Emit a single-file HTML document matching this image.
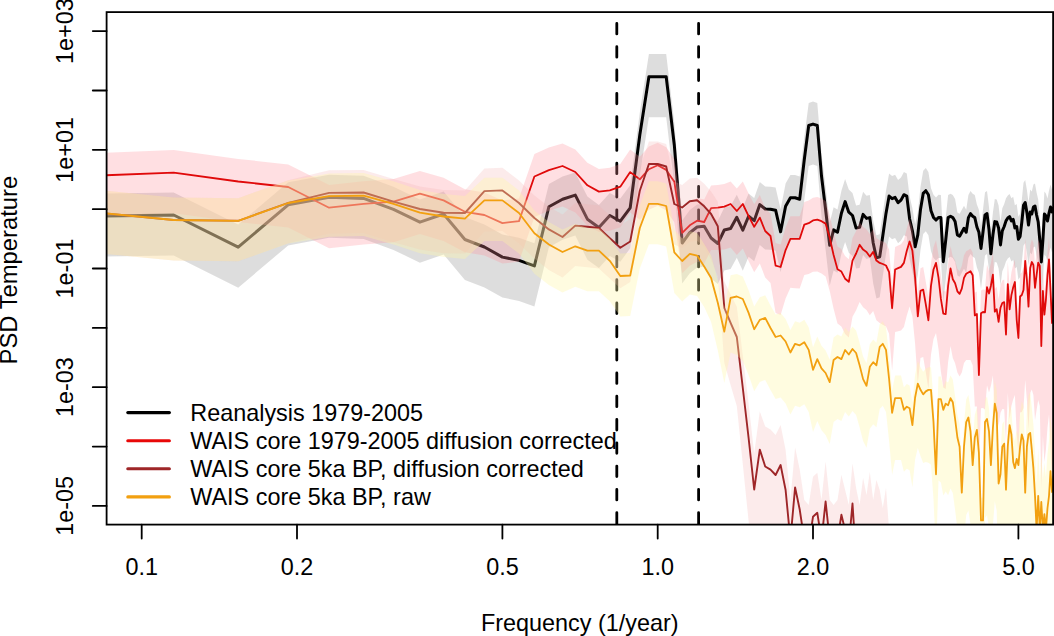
<!DOCTYPE html>
<html><head><meta charset="utf-8"><style>
html,body{margin:0;padding:0;background:#fff;}
svg{display:block;}
.t{font-family:"Liberation Sans",sans-serif;font-size:23.4px;fill:#000;}
</style></head><body>
<svg width="1054" height="636" viewBox="0 0 1054 636">
<rect width="1054" height="636" fill="#fff"/>
<defs><clipPath id="pc"><rect x="106.6" y="12.1" width="946.4999999999999" height="512.5"/></clipPath></defs>
<line x1="616.8" y1="523.2" x2="616.8" y2="12.1" stroke="#000" stroke-width="2.8" stroke-dasharray="10.5 12.8" stroke-linecap="round"/>
<line x1="698.6" y1="523.2" x2="698.6" y2="12.1" stroke="#000" stroke-width="2.8" stroke-dasharray="10.5 12.8" stroke-linecap="round"/>
<g clip-path="url(#pc)" stroke-linejoin="round" stroke-linecap="round">
<polygon points="82.8,193.8 173.7,192.4 238.2,224.6 288.2,182.3 329.1,174.7 363.6,175.8 393.5,186.8 419.9,199.6 443.6,191.4 464.9,216.9 484.4,224.4 502.4,234.5 519.0,237.8 534.4,243.3 548.9,184.1 562.5,176.6 575.3,172.5 587.4,196.6 598.9,204.9 609.8,192.9 620.3,198.6 630.2,185.2 639.8,112.4 648.9,54.1 657.7,54.1 666.2,54.1 674.3,122.4 682.2,220.4 689.8,210.1 697.1,204.4 704.2,203.7 711.1,215.4 717.8,220.9 724.3,207.4 730.6,205.9 736.8,194.7 742.8,207.6 748.6,193.6 754.2,198.1 759.8,182.0 765.2,186.4 770.5,186.7 775.6,187.6 780.6,209.2 785.6,183.6 790.4,175.1 795.1,175.1 799.7,176.6 804.3,136.9 808.7,102.9 813.0,101.5 817.3,102.9 821.5,153.4 825.6,186.9 829.7,222.7 833.6,207.3 837.5,209.6 841.4,190.7 845.1,179.0 848.8,189.6 852.5,192.9 856.1,205.5 859.6,204.8 863.1,191.8 866.5,195.8 869.8,195.0 873.2,220.4 876.4,235.3 879.7,234.2 882.8,213.1 886.0,190.8 889.1,173.5 892.1,176.1 895.1,174.8 898.1,180.1 901.0,177.5 903.9,172.1 906.8,173.5 909.6,196.2 912.4,208.2 915.1,224.2 917.8,212.2 920.5,186.8 923.2,170.8 925.8,168.1 928.4,172.1 931.0,188.2 933.5,194.8 936.0,197.5 938.5,194.8 940.9,195.0 943.3,239.1 945.7,217.8 948.1,195.0 950.5,193.7 952.8,195.0 955.1,199.0 957.4,212.4 959.6,213.7 961.8,209.7 964.0,205.7 966.2,209.7 968.4,195.0 970.5,191.0 972.7,193.7 974.8,195.0 976.9,204.4 978.9,209.7 981.0,225.8 983.0,209.4 985.0,192.3 987.0,191.0 989.0,207.0 990.9,231.2 992.9,212.4 994.8,199.0 996.7,199.4 998.6,205.4 1000.5,222.3 1002.3,208.2 1004.2,203.9 1006.0,198.3 1007.8,195.4 1009.6,194.0 1011.4,198.3 1013.2,196.8 1014.9,205.3 1016.7,203.9 1018.4,216.7 1020.1,213.8 1021.8,199.7 1023.5,182.7 1025.2,179.9 1026.9,189.8 1028.5,202.5 1030.2,189.4 1031.8,191.4 1033.4,184.4 1035.0,183.4 1036.6,192.4 1038.2,199.4 1039.8,217.4 1041.3,239.4 1042.9,217.4 1044.4,191.4 1045.9,193.4 1047.5,198.4 1049.0,190.4 1050.5,184.4 1052.0,189.4 1053.4,185.4 1054.9,185.4 1054.9,248.5 1053.4,248.5 1052.0,252.5 1050.5,247.5 1049.0,253.5 1047.5,261.5 1045.9,256.5 1044.4,254.5 1042.9,280.5 1041.3,302.5 1039.8,280.5 1038.2,262.5 1036.6,255.5 1035.0,246.5 1033.4,247.5 1031.8,254.5 1030.2,252.5 1028.5,265.6 1026.9,252.9 1025.2,243.0 1023.5,245.8 1021.8,262.8 1020.1,276.9 1018.4,279.8 1016.7,267.0 1014.9,268.4 1013.2,259.9 1011.4,261.4 1009.6,257.1 1007.8,258.5 1006.0,261.4 1004.2,267.0 1002.3,271.3 1000.5,285.4 998.6,268.5 996.7,262.5 994.8,262.1 992.9,275.5 990.9,294.3 989.0,270.1 987.0,254.1 985.0,255.4 983.0,272.5 981.0,288.9 978.9,272.8 976.9,267.5 974.8,258.1 972.7,256.8 970.5,254.1 968.4,258.1 966.2,272.8 964.0,268.8 961.8,272.8 959.6,276.8 957.4,275.5 955.1,262.1 952.8,258.1 950.5,256.8 948.1,258.1 945.7,280.9 943.3,302.2 940.9,258.1 938.5,257.9 936.0,260.6 933.5,257.9 931.0,251.3 928.4,235.2 925.8,231.2 923.2,233.9 920.5,249.9 917.8,275.3 915.1,287.3 912.4,271.3 909.6,259.3 906.8,236.6 903.9,235.2 901.0,240.6 898.1,243.2 895.1,237.9 892.1,239.2 889.1,236.6 886.0,253.9 882.8,276.2 879.7,297.3 876.4,298.4 873.2,283.5 869.8,258.1 866.5,258.9 863.1,254.9 859.6,267.9 856.1,268.6 852.5,256.0 848.8,252.7 845.1,242.1 841.4,253.8 837.5,272.7 833.6,270.4 829.7,285.8 825.6,250.0 821.5,216.5 817.3,166.0 813.0,164.6 808.7,166.0 804.3,200.0 799.7,239.7 795.1,238.2 790.4,238.2 785.6,246.7 780.6,272.3 775.6,250.7 770.5,249.8 765.2,249.5 759.8,245.1 754.2,261.2 748.6,256.7 742.8,270.7 736.8,257.8 730.6,269.0 724.3,270.5 717.8,284.0 711.1,278.5 704.2,266.8 697.1,267.5 689.8,273.2 682.2,283.5 674.3,185.5 666.2,117.2 657.7,117.2 648.9,117.2 639.8,175.5 630.2,248.3 620.3,261.7 609.8,256.0 598.9,268.0 587.4,259.7 575.3,235.6 562.5,239.7 548.9,247.2 534.4,306.4 519.0,300.9 502.4,297.6 484.4,287.5 464.9,280.0 443.6,254.5 419.9,262.7 393.5,249.9 363.6,238.9 329.1,237.8 288.2,245.4 238.2,287.7 173.7,255.5 82.8,256.9" fill="#000" fill-opacity="0.135" stroke="none"/>
<polyline points="82.8,216.4 173.7,215.0 238.2,247.2 288.2,204.9 329.1,197.3 363.6,198.4 393.5,209.4 419.9,222.2 443.6,214.0 464.9,239.5 484.4,247.0 502.4,257.1 519.0,260.4 534.4,265.9 548.9,206.7 562.5,199.2 575.3,195.1 587.4,219.2 598.9,227.5 609.8,215.5 620.3,221.2 630.2,207.8 639.8,135.0 648.9,76.7 657.7,76.7 666.2,76.7 674.3,145.0 682.2,243.0 689.8,232.7 697.1,227.0 704.2,226.3 711.1,238.0 717.8,243.5 724.3,230.0 730.6,228.5 736.8,217.3 742.8,230.2 748.6,216.2 754.2,220.7 759.8,204.6 765.2,209.0 770.5,209.3 775.6,210.2 780.6,231.8 785.6,206.2 790.4,197.7 795.1,197.7 799.7,199.2 804.3,159.5 808.7,125.5 813.0,124.1 817.3,125.5 821.5,176.0 825.6,209.5 829.7,245.3 833.6,229.9 837.5,232.2 841.4,213.3 845.1,201.6 848.8,212.2 852.5,215.5 856.1,228.1 859.6,227.4 863.1,214.4 866.5,218.4 869.8,217.6 873.2,243.0 876.4,257.9 879.7,256.8 882.8,235.7 886.0,213.4 889.1,196.1 892.1,198.7 895.1,197.4 898.1,202.7 901.0,200.1 903.9,194.7 906.8,196.1 909.6,218.8 912.4,230.8 915.1,246.8 917.8,234.8 920.5,209.4 923.2,193.4 925.8,190.7 928.4,194.7 931.0,210.8 933.5,217.4 936.0,220.1 938.5,217.4 940.9,217.6 943.3,261.7 945.7,240.4 948.1,217.6 950.5,216.3 952.8,217.6 955.1,221.6 957.4,235.0 959.6,236.3 961.8,232.3 964.0,228.3 966.2,232.3 968.4,217.6 970.5,213.6 972.7,216.3 974.8,217.6 976.9,227.0 978.9,232.3 981.0,248.4 983.0,232.0 985.0,214.9 987.0,213.6 989.0,229.6 990.9,253.8 992.9,235.0 994.8,221.6 996.7,222.0 998.6,228.0 1000.5,244.9 1002.3,230.8 1004.2,226.5 1006.0,220.9 1007.8,218.0 1009.6,216.6 1011.4,220.9 1013.2,219.4 1014.9,227.9 1016.7,226.5 1018.4,239.3 1020.1,236.4 1021.8,222.3 1023.5,205.3 1025.2,202.5 1026.9,212.4 1028.5,225.1 1030.2,212.0 1031.8,214.0 1033.4,207.0 1035.0,206.0 1036.6,215.0 1038.2,222.0 1039.8,240.0 1041.3,262.0 1042.9,240.0 1044.4,214.0 1045.9,216.0 1047.5,221.0 1049.0,213.0 1050.5,207.0 1052.0,212.0 1053.4,208.0 1054.9,208.0" fill="none" stroke="#000" stroke-width="3"/>
<polygon points="82.8,153.5 173.7,150.1 238.2,158.9 288.2,164.4 329.1,185.1 363.6,181.3 393.5,179.1 419.9,171.0 443.6,177.8 464.9,189.2 484.4,192.4 502.4,200.5 519.0,198.5 534.4,153.9 548.9,147.6 562.5,143.4 575.3,149.4 587.4,162.7 598.9,169.0 609.8,167.7 620.3,164.1 630.2,149.5 639.8,156.7 648.9,146.6 657.7,142.7 666.2,147.3 674.3,159.1 682.2,210.2 689.8,202.7 697.1,198.1 704.2,199.4 711.1,185.5 717.8,185.0 724.3,184.0 730.6,181.4 736.8,188.4 742.8,181.4 748.6,193.6 754.2,204.2 759.8,195.0 765.2,208.4 770.5,213.4 775.6,243.1 780.6,244.4 785.6,227.5 790.4,216.2 795.1,216.2 799.7,216.2 804.3,202.0 808.7,200.6 813.0,197.8 817.3,197.1 821.5,198.6 825.6,201.0 829.7,215.2 833.6,232.4 837.5,246.6 841.4,249.0 845.1,256.1 848.8,259.2 852.5,238.0 856.1,230.9 859.6,222.2 863.1,227.0 866.5,229.3 869.8,234.0 873.2,229.3 876.4,238.0 879.7,240.3 882.8,241.4 886.0,242.9 889.1,249.6 892.1,285.7 895.1,246.9 898.1,245.6 901.0,244.3 903.9,240.3 906.8,228.2 909.6,218.9 912.4,228.2 915.1,255.0 917.8,293.7 920.5,268.3 923.2,267.0 925.8,281.7 928.4,297.7 931.0,263.0 933.5,246.9 936.0,240.3 938.5,255.0 940.9,276.3 943.3,291.0 945.7,291.4 948.1,263.3 950.5,245.9 952.8,256.6 955.1,260.6 957.4,268.7 959.6,271.3 961.8,266.0 964.0,255.3 966.2,251.2 968.4,249.9 970.5,248.6 972.7,252.6 974.8,292.8 976.9,291.4 978.9,352.4 981.0,290.6 983.0,289.4 985.0,289.8 987.0,264.6 989.0,270.9 990.9,263.1 992.9,252.0 994.8,289.1 996.7,286.7 998.6,299.3 1000.5,285.1 1002.3,280.4 1004.2,279.6 1006.0,311.9 1007.8,261.5 1009.6,286.7 1011.4,272.5 1013.2,264.6 1014.9,259.4 1016.7,297.4 1018.4,315.4 1020.1,273.9 1021.8,272.4 1023.5,267.4 1025.2,238.4 1026.9,257.4 1028.5,284.1 1030.2,245.4 1031.8,239.4 1033.4,242.4 1035.0,265.2 1036.6,252.4 1038.2,240.0 1039.8,243.4 1041.3,323.4 1042.9,268.4 1044.4,292.0 1045.9,277.4 1047.5,252.4 1049.0,236.8 1050.5,267.4 1052.0,300.4 1053.4,277.4 1054.9,267.4 1054.9,455.0 1053.4,462.5 1052.0,483.0 1050.5,447.5 1049.0,414.4 1047.5,427.5 1045.9,450.0 1044.4,462.1 1042.9,436.0 1041.3,488.5 1039.8,406.0 1038.2,400.1 1036.6,410.0 1035.0,420.3 1033.4,395.0 1031.8,389.5 1030.2,393.0 1028.5,429.2 1026.9,400.0 1025.2,380.0 1023.5,408.0 1021.8,412.0 1020.1,412.5 1018.4,453.0 1016.7,434.0 1014.9,395.0 1013.2,399.2 1011.4,406.1 1009.6,419.3 1007.8,393.1 1006.0,442.5 1004.2,409.2 1002.3,409.0 1000.5,412.7 998.6,425.9 996.7,412.3 994.8,413.7 992.9,375.6 990.9,385.7 989.0,392.5 987.0,385.2 985.0,409.4 983.0,408.0 981.0,408.2 978.9,468.8 976.9,406.5 974.8,406.6 972.7,365.2 970.5,359.9 968.4,360.0 966.2,360.1 964.0,362.9 961.8,372.4 959.6,376.4 957.4,372.6 955.1,363.2 952.8,357.9 950.5,346.0 948.1,362.1 945.7,389.0 943.3,387.4 940.9,371.4 938.5,348.9 936.0,332.9 933.5,339.0 931.0,354.6 928.4,388.8 925.8,372.3 923.2,357.1 920.5,357.9 917.8,382.9 915.1,343.7 912.4,316.4 909.6,306.6 906.8,315.4 903.9,327.0 901.0,330.5 898.1,331.3 895.1,332.1 892.1,370.4 889.1,333.8 886.0,326.6 882.8,324.7 879.7,323.1 876.4,320.3 873.2,311.1 869.8,315.3 866.5,310.1 863.1,307.3 859.6,302.0 856.1,310.2 852.5,316.8 848.8,337.5 845.1,333.9 841.4,326.4 837.5,323.5 833.6,308.8 829.7,291.1 825.6,276.4 821.5,273.5 817.3,271.5 813.0,271.7 808.7,274.0 804.3,274.9 799.7,288.6 795.1,288.2 790.4,287.7 785.6,298.5 780.6,314.9 775.6,313.1 770.5,282.9 765.2,277.4 759.8,263.5 754.2,272.2 748.6,261.1 742.8,248.4 736.8,254.9 730.6,247.4 724.3,249.6 717.8,250.1 711.1,250.1 704.2,263.5 697.1,261.7 689.8,265.8 682.2,273.3 674.3,222.2 666.2,210.4 657.7,205.8 648.9,209.7 639.8,219.8 630.2,212.6 620.3,227.2 609.8,230.8 598.9,232.1 587.4,225.8 575.3,212.5 562.5,206.5 548.9,210.7 534.4,217.0 519.0,261.6 502.4,263.6 484.4,255.5 464.9,252.3 443.6,240.9 419.9,234.1 393.5,242.2 363.6,244.4 329.1,248.2 288.2,227.5 238.2,222.0 173.7,213.2 82.8,216.6" fill="rgb(255,140,150)" fill-opacity="0.28" stroke="none"/>
<polyline points="82.8,176.1 173.7,172.7 238.2,181.5 288.2,187.0 329.1,207.7 363.6,203.9 393.5,201.7 419.9,193.6 443.6,200.4 464.9,211.8 484.4,215.0 502.4,223.1 519.0,221.1 534.4,176.5 548.9,170.2 562.5,166.0 575.3,172.0 587.4,185.3 598.9,191.6 609.8,190.3 620.3,186.7 630.2,172.1 639.8,179.3 648.9,169.2 657.7,165.3 666.2,169.9 674.3,181.7 682.2,232.8 689.8,225.3 697.1,220.7 704.2,222.0 711.1,208.1 717.8,207.6 724.3,206.6 730.6,204.0 736.8,211.0 742.8,204.0 748.6,216.2 754.2,226.8 759.8,217.6 765.2,231.0 770.5,236.0 775.6,265.7 780.6,267.0 785.6,250.1 790.4,238.8 795.1,238.8 799.7,238.8 804.3,224.6 808.7,223.2 813.0,220.4 817.3,219.7 821.5,221.2 825.6,223.6 829.7,237.8 833.6,255.0 837.5,269.2 841.4,271.6 845.1,278.7 848.8,281.8 852.5,260.6 856.1,253.5 859.6,244.8 863.1,249.6 866.5,251.9 869.8,256.6 873.2,251.9 876.4,260.6 879.7,262.9 882.8,264.0 886.0,265.5 889.1,272.2 892.1,308.3 895.1,269.5 898.1,268.2 901.0,266.9 903.9,262.9 906.8,250.8 909.6,241.5 912.4,250.8 915.1,277.6 917.8,316.3 920.5,290.9 923.2,289.6 925.8,304.3 928.4,320.3 931.0,285.6 933.5,269.5 936.0,262.9 938.5,277.6 940.9,298.9 943.3,313.6 945.7,314.0 948.1,285.9 950.5,268.5 952.8,279.2 955.1,283.2 957.4,291.3 959.6,293.9 961.8,288.6 964.0,277.9 966.2,273.8 968.4,272.5 970.5,271.2 972.7,275.2 974.8,315.4 976.9,314.0 978.9,375.0 981.0,313.2 983.0,312.0 985.0,312.4 987.0,287.2 989.0,293.5 990.9,285.7 992.9,274.6 994.8,311.7 996.7,309.3 998.6,321.9 1000.5,307.7 1002.3,303.0 1004.2,302.2 1006.0,334.5 1007.8,284.1 1009.6,309.3 1011.4,295.1 1013.2,287.2 1014.9,282.0 1016.7,320.0 1018.4,338.0 1020.1,296.5 1021.8,295.0 1023.5,290.0 1025.2,261.0 1026.9,280.0 1028.5,306.7 1030.2,268.0 1031.8,262.0 1033.4,265.0 1035.0,287.8 1036.6,275.0 1038.2,262.6 1039.8,266.0 1041.3,346.0 1042.9,291.0 1044.4,314.6 1045.9,300.0 1047.5,275.0 1049.0,259.4 1050.5,290.0 1052.0,323.0 1053.4,300.0 1054.9,290.0" fill="none" stroke="#e00a0a" stroke-width="1.8"/>
<polygon points="82.8,188.6 173.7,197.4 238.2,198.2 288.2,180.2 329.1,170.3 363.6,169.9 393.5,179.1 419.9,186.4 443.6,190.1 464.9,190.4 484.4,168.5 502.4,167.8 519.0,180.4 534.4,195.4 548.9,206.8 562.5,214.4 575.3,203.0 587.4,204.2 598.9,205.4 609.8,215.5 620.3,225.2 630.2,218.9 639.8,168.1 648.9,141.4 657.7,141.4 666.2,143.9 674.3,181.4 682.2,184.9 689.8,178.6 697.1,177.7 704.2,183.7 711.1,191.4 717.8,201.8 724.3,281.3 730.6,294.5 736.8,306.7 742.8,355.7 748.6,403.8 754.2,453.4 759.8,411.5 765.2,426.5 770.5,429.6 775.6,435.0 780.6,425.0 785.6,450.0 790.4,500.0 795.1,447.4 799.7,469.5 804.3,500.0 808.7,505.0 813.0,476.8 817.3,472.8 821.5,500.0 825.6,461.5 829.7,500.0 833.6,505.0 837.5,500.0 841.4,474.8 845.1,490.0 848.8,505.0 852.5,463.5 856.1,488.0 859.6,505.0 863.1,478.0 866.5,495.0 869.8,472.0 873.2,500.0 876.4,480.0 879.7,490.0 882.8,508.0 886.0,488.0 889.1,530.0 892.1,580.0 895.1,580.0 898.1,580.0 901.0,580.0 903.9,580.0 906.8,580.0 909.6,580.0 912.4,580.0 915.1,580.0 917.8,580.0 920.5,580.0 923.2,580.0 925.8,580.0 928.4,580.0 931.0,580.0 933.5,580.0 936.0,580.0 938.5,580.0 940.9,580.0 943.3,580.0 945.7,580.0 948.1,580.0 950.5,580.0 952.8,580.0 955.1,580.0 957.4,580.0 959.6,580.0 961.8,580.0 964.0,580.0 966.2,580.0 968.4,580.0 970.5,580.0 972.7,580.0 974.8,580.0 976.9,580.0 978.9,580.0 981.0,580.0 983.0,580.0 985.0,580.0 987.0,580.0 989.0,580.0 990.9,580.0 992.9,580.0 994.8,580.0 996.7,580.0 998.6,580.0 1000.5,580.0 1002.3,580.0 1004.2,580.0 1006.0,580.0 1007.8,580.0 1009.6,580.0 1011.4,580.0 1013.2,580.0 1014.9,580.0 1016.7,580.0 1018.4,580.0 1020.1,580.0 1021.8,580.0 1023.5,580.0 1025.2,580.0 1026.9,580.0 1028.5,580.0 1030.2,580.0 1031.8,580.0 1033.4,580.0 1035.0,580.0 1036.6,580.0 1038.2,580.0 1039.8,580.0 1041.3,580.0 1042.9,580.0 1044.4,580.0 1045.9,580.0 1047.5,580.0 1049.0,580.0 1050.5,580.0 1052.0,580.0 1053.4,580.0 1054.9,580.0 1054.9,710.0 1053.4,710.0 1052.0,710.0 1050.5,710.0 1049.0,710.0 1047.5,710.0 1045.9,710.0 1044.4,710.0 1042.9,710.0 1041.3,710.0 1039.8,710.0 1038.2,710.0 1036.6,710.0 1035.0,710.0 1033.4,710.0 1031.8,710.0 1030.2,710.0 1028.5,710.0 1026.9,710.0 1025.2,710.0 1023.5,710.0 1021.8,710.0 1020.1,710.0 1018.4,710.0 1016.7,710.0 1014.9,710.0 1013.2,710.0 1011.4,710.0 1009.6,710.0 1007.8,710.0 1006.0,710.0 1004.2,710.0 1002.3,710.0 1000.5,710.0 998.6,710.0 996.7,710.0 994.8,710.0 992.9,710.0 990.9,710.0 989.0,710.0 987.0,710.0 985.0,710.0 983.0,710.0 981.0,710.0 978.9,710.0 976.9,710.0 974.8,710.0 972.7,710.0 970.5,710.0 968.4,710.0 966.2,710.0 964.0,710.0 961.8,710.0 959.6,710.0 957.4,710.0 955.1,710.0 952.8,710.0 950.5,710.0 948.1,710.0 945.7,710.0 943.3,710.0 940.9,710.0 938.5,710.0 936.0,710.0 933.5,710.0 931.0,710.0 928.4,710.0 925.8,710.0 923.2,710.0 920.5,710.0 917.8,710.0 915.1,710.0 912.4,710.0 909.6,710.0 906.8,710.0 903.9,710.0 901.0,710.0 898.1,710.0 895.1,710.0 892.1,710.0 889.1,660.0 886.0,618.0 882.8,638.0 879.7,620.0 876.4,610.0 873.2,630.0 869.8,602.0 866.5,625.0 863.1,608.0 859.6,635.0 856.1,618.0 852.5,593.5 848.8,635.0 845.1,620.0 841.4,604.8 837.5,630.0 833.6,635.0 829.7,630.0 825.6,591.5 821.5,630.0 817.3,602.8 813.0,606.8 808.7,635.0 804.3,630.0 799.7,599.5 795.1,577.4 790.4,630.0 785.6,580.0 780.6,555.0 775.6,565.0 770.5,559.6 765.2,556.5 759.8,539.6 754.2,579.5 748.6,521.0 742.8,464.0 736.8,406.0 730.6,384.9 724.3,362.8 717.8,276.5 711.1,259.3 704.2,246.8 697.1,240.8 689.8,241.7 682.2,248.0 674.3,244.5 666.2,207.0 657.7,204.5 648.9,204.5 639.8,231.2 630.2,282.0 620.3,288.3 609.8,278.6 598.9,268.5 587.4,267.3 575.3,266.1 562.5,277.5 548.9,269.9 534.4,258.5 519.0,243.5 502.4,230.9 484.4,231.6 464.9,253.5 443.6,253.2 419.9,249.5 393.5,242.2 363.6,233.0 329.1,233.4 288.2,243.3 238.2,261.3 173.7,260.5 82.8,251.7" fill="rgb(243,175,175)" fill-opacity="0.25" stroke="none"/>
<polyline points="82.8,211.2 173.7,220.0 238.2,220.8 288.2,202.8 329.1,192.9 363.6,192.5 393.5,201.7 419.9,209.0 443.6,212.7 464.9,213.0 484.4,191.1 502.4,190.4 519.0,203.0 534.4,218.0 548.9,229.4 562.5,237.0 575.3,225.6 587.4,226.8 598.9,228.0 609.8,238.1 620.3,247.8 630.2,241.5 639.8,190.7 648.9,164.0 657.7,164.0 666.2,166.5 674.3,204.0 682.2,207.5 689.8,201.2 697.1,200.3 704.2,206.3 711.1,214.0 717.8,226.3 724.3,307.8 730.6,322.9 736.8,337.0 742.8,388.0 748.6,438.0 754.2,489.5 759.8,449.6 765.2,466.5 770.5,469.6 775.6,475.0 780.6,465.0 785.6,490.0 790.4,540.0 795.1,487.4 799.7,509.5 804.3,540.0 808.7,545.0 813.0,516.8 817.3,512.8 821.5,540.0 825.6,501.5 829.7,540.0 833.6,545.0 837.5,540.0 841.4,514.8 845.1,530.0 848.8,545.0 852.5,503.5 856.1,560.0" fill="none" stroke="#9e2628" stroke-width="1.9"/>
<polygon points="82.8,188.6 173.7,197.4 238.2,198.2 288.2,180.4 329.1,173.6 363.6,173.0 393.5,181.3 419.9,190.1 443.6,193.9 464.9,196.0 484.4,177.8 502.4,177.8 519.0,190.4 534.4,210.6 548.9,221.9 562.5,229.4 575.3,223.7 587.4,228.1 598.9,228.1 609.8,238.2 620.3,253.4 630.2,252.9 639.8,205.4 648.9,181.2 657.7,181.2 666.2,183.4 674.3,229.8 682.2,238.4 689.8,231.3 697.1,233.0 704.2,243.9 711.1,255.4 717.8,280.2 724.3,309.1 730.6,275.2 736.8,273.9 742.8,276.4 748.6,290.3 754.2,306.6 759.8,297.3 765.2,295.3 770.5,305.4 775.6,314.4 780.6,312.9 785.6,318.9 790.4,329.9 795.1,321.2 799.7,322.7 804.3,319.7 808.7,327.3 813.0,347.3 817.3,336.5 821.5,345.7 825.6,350.4 829.7,359.5 833.6,337.4 837.5,334.4 841.4,336.5 845.1,327.4 848.8,331.9 852.5,326.4 856.1,330.4 859.6,342.7 863.1,356.5 866.5,363.2 869.8,344.2 873.2,339.6 876.4,342.7 879.7,324.3 882.8,321.2 886.0,327.3 889.1,356.4 892.1,390.2 895.1,375.5 898.1,375.5 901.0,375.5 903.9,387.2 906.8,384.1 909.6,385.6 912.4,402.5 915.1,374.9 917.8,361.1 920.5,367.2 923.2,371.8 925.8,368.8 928.4,367.3 931.0,367.3 933.5,399.5 936.0,451.7 938.5,376.5 940.9,376.5 943.3,387.2 945.7,381.1 948.1,382.6 950.5,375.6 952.8,379.6 955.1,396.4 957.4,414.9 959.6,424.1 961.8,470.1 964.0,424.1 966.2,399.5 968.4,394.9 970.5,408.7 972.7,442.5 974.8,414.9 976.9,407.2 978.9,430.2 981.0,497.8 983.0,497.8 985.0,399.4 987.0,396.4 989.0,408.7 990.9,442.5 992.9,405.6 994.8,381.1 996.7,390.3 998.6,460.9 1000.5,451.7 1002.3,424.1 1004.2,421.0 1006.0,467.1 1007.8,423.4 1009.6,402.6 1011.4,410.3 1013.2,436.4 1014.9,441.1 1016.7,430.4 1018.4,435.0 1020.1,415.1 1021.8,401.3 1023.5,406.0 1025.2,456.7 1026.9,409.2 1028.5,395.4 1030.2,392.4 1031.8,407.7 1033.4,424.7 1035.0,450.8 1036.6,483.8 1038.2,448.5 1039.8,481.5 1041.3,452.4 1042.9,479.2 1044.4,462.3 1045.9,476.9 1047.5,453.8 1049.0,440.6 1050.5,414.7 1052.0,434.3 1053.4,418.2 1054.9,410.0 1054.9,580.0 1053.4,586.7 1052.0,601.3 1050.5,580.2 1049.0,604.6 1047.5,616.3 1045.9,637.9 1044.4,621.8 1042.9,637.2 1041.3,608.9 1039.8,636.6 1038.2,602.0 1036.6,635.9 1035.0,601.3 1033.4,573.4 1031.8,554.5 1030.2,537.4 1028.5,538.5 1026.9,550.5 1025.2,596.1 1023.5,543.6 1021.8,537.2 1020.1,549.1 1018.4,567.2 1016.7,560.7 1014.9,569.6 1013.2,563.0 1011.4,535.1 1009.6,525.5 1007.8,546.0 1006.0,589.4 1004.2,542.9 1002.3,545.7 1000.5,572.9 998.6,581.8 996.7,510.8 994.8,501.3 992.9,525.4 990.9,562.0 989.0,527.9 987.0,515.2 985.0,517.9 983.0,615.9 981.0,615.6 978.9,547.6 976.9,524.3 974.8,531.6 972.7,558.9 970.5,524.7 968.4,510.6 966.2,514.9 964.0,539.1 961.8,584.8 959.6,538.4 957.4,528.9 955.1,510.0 952.8,492.9 950.5,488.5 948.1,495.2 945.7,491.5 943.3,495.5 940.9,482.6 938.5,480.5 936.0,553.5 933.5,499.2 931.0,464.8 928.4,462.7 925.8,462.0 923.2,462.9 920.5,456.1 917.8,447.9 915.1,459.5 912.4,487.1 909.6,470.2 906.8,468.7 903.9,471.8 901.0,460.1 898.1,460.1 895.1,460.1 892.1,474.8 889.1,441.0 886.0,411.9 882.8,405.8 879.7,408.9 876.4,427.3 873.2,424.2 869.8,428.8 866.5,447.8 863.1,441.1 859.6,427.3 856.1,415.0 852.5,411.0 848.8,416.5 845.1,412.0 841.4,421.1 837.5,419.0 833.6,422.0 829.7,444.1 825.6,435.0 821.5,430.3 817.3,421.1 813.0,431.9 808.7,411.9 804.3,404.3 799.7,407.3 795.1,405.8 790.4,414.5 785.6,403.5 780.6,397.5 775.6,399.0 770.5,390.0 765.2,379.9 759.8,381.9 754.2,391.2 748.6,374.9 742.8,361.0 736.8,354.9 730.6,352.6 724.3,382.9 717.8,350.5 711.1,322.1 704.2,307.0 697.1,296.1 689.8,294.4 682.2,301.5 674.3,292.9 666.2,246.5 657.7,244.3 648.9,244.3 639.8,268.5 630.2,316.0 620.3,316.5 609.8,301.3 598.9,291.2 587.4,291.2 575.3,286.8 562.5,292.5 548.9,285.0 534.4,273.7 519.0,253.5 502.4,240.9 484.4,240.9 464.9,259.1 443.6,257.0 419.9,253.2 393.5,244.4 363.6,236.1 329.1,236.7 288.2,243.5 238.2,261.3 173.7,260.5 82.8,251.7" fill="rgb(255,246,165)" fill-opacity="0.347" stroke="none"/>
<polyline points="82.8,211.2 173.7,220.0 238.2,220.8 288.2,203.0 329.1,196.2 363.6,195.6 393.5,203.9 419.9,212.7 443.6,216.5 464.9,218.6 484.4,200.4 502.4,200.4 519.0,213.0 534.4,233.2 548.9,244.5 562.5,252.0 575.3,246.3 587.4,250.7 598.9,250.7 609.8,260.8 620.3,276.0 630.2,275.5 639.8,228.0 648.9,203.8 657.7,203.8 666.2,206.0 674.3,252.4 682.2,261.0 689.8,253.9 697.1,255.6 704.2,266.5 711.1,278.0 717.8,302.8 724.3,331.7 730.6,297.8 736.8,296.5 742.8,299.0 748.6,312.9 754.2,329.2 759.8,319.9 765.2,317.9 770.5,328.0 775.6,337.0 780.6,335.5 785.6,341.5 790.4,352.5 795.1,343.8 799.7,345.3 804.3,342.3 808.7,349.9 813.0,369.9 817.3,359.1 821.5,368.3 825.6,373.0 829.7,382.1 833.6,360.0 837.5,357.0 841.4,359.1 845.1,350.0 848.8,354.5 852.5,349.0 856.1,353.0 859.6,365.3 863.1,379.1 866.5,385.8 869.8,366.8 873.2,362.2 876.4,365.3 879.7,346.9 882.8,343.8 886.0,349.9 889.1,379.0 892.1,412.8 895.1,398.1 898.1,398.1 901.0,398.1 903.9,409.8 906.8,406.7 909.6,408.2 912.4,425.1 915.1,397.5 917.8,383.7 920.5,389.8 923.2,394.4 925.8,391.4 928.4,389.9 931.0,389.9 933.5,422.1 936.0,474.3 938.5,399.1 940.9,399.1 943.3,409.8 945.7,403.7 948.1,405.2 950.5,398.2 952.8,402.2 955.1,419.0 957.4,437.5 959.6,446.7 961.8,492.7 964.0,446.7 966.2,422.1 968.4,417.5 970.5,431.3 972.7,465.1 974.8,437.5 976.9,429.8 978.9,452.8 981.0,520.4 983.0,520.4 985.0,422.0 987.0,419.0 989.0,431.3 990.9,465.1 992.9,428.2 994.8,403.7 996.7,412.9 998.6,483.5 1000.5,474.3 1002.3,446.7 1004.2,443.6 1006.0,489.7 1007.8,446.0 1009.6,425.2 1011.4,434.4 1013.2,462.0 1014.9,468.2 1016.7,459.0 1018.4,465.1 1020.1,446.7 1021.8,434.4 1023.5,440.5 1025.2,492.7 1026.9,446.7 1028.5,434.4 1030.2,432.9 1031.8,449.7 1033.4,468.2 1035.0,495.8 1036.6,530.0 1038.2,495.8 1039.8,530.0 1041.3,502.0 1042.9,530.0 1044.4,514.2 1045.9,530.0 1047.5,508.0 1049.0,496.0 1050.5,471.2 1052.0,492.0 1053.4,477.0 1054.9,470.0" fill="none" stroke="#f2a010" stroke-width="1.8"/>
</g>
<rect x="106.6" y="12.1" width="946.4999999999999" height="512.5" fill="none" stroke="#000" stroke-width="1.8"/>
<line x1="92.8" y1="505.9" x2="106.6" y2="505.9" stroke="#000" stroke-width="1.8" stroke-linecap="round"/>
<line x1="92.8" y1="446.6" x2="106.6" y2="446.6" stroke="#000" stroke-width="1.8" stroke-linecap="round"/>
<line x1="92.8" y1="387.2" x2="106.6" y2="387.2" stroke="#000" stroke-width="1.8" stroke-linecap="round"/>
<line x1="92.8" y1="327.9" x2="106.6" y2="327.9" stroke="#000" stroke-width="1.8" stroke-linecap="round"/>
<line x1="92.8" y1="268.5" x2="106.6" y2="268.5" stroke="#000" stroke-width="1.8" stroke-linecap="round"/>
<line x1="92.8" y1="209.2" x2="106.6" y2="209.2" stroke="#000" stroke-width="1.8" stroke-linecap="round"/>
<line x1="92.8" y1="149.8" x2="106.6" y2="149.8" stroke="#000" stroke-width="1.8" stroke-linecap="round"/>
<line x1="92.8" y1="90.5" x2="106.6" y2="90.5" stroke="#000" stroke-width="1.8" stroke-linecap="round"/>
<line x1="92.8" y1="31.1" x2="106.6" y2="31.1" stroke="#000" stroke-width="1.8" stroke-linecap="round"/>
<text transform="translate(73.2,31.1) rotate(-90)" text-anchor="middle" class="t">1e+03</text>
<text transform="translate(73.2,149.8) rotate(-90)" text-anchor="middle" class="t">1e+01</text>
<text transform="translate(73.2,268.5) rotate(-90)" text-anchor="middle" class="t">1e-01</text>
<text transform="translate(73.2,387.2) rotate(-90)" text-anchor="middle" class="t">1e-03</text>
<text transform="translate(73.2,505.9) rotate(-90)" text-anchor="middle" class="t">1e-05</text>
<line x1="141.7" y1="524.6" x2="141.7" y2="538.6" stroke="#000" stroke-width="1.8" stroke-linecap="round"/>
<text x="141.7" y="575" text-anchor="middle" class="t">0.1</text>
<line x1="297.0" y1="524.6" x2="297.0" y2="538.6" stroke="#000" stroke-width="1.8" stroke-linecap="round"/>
<text x="297.0" y="575" text-anchor="middle" class="t">0.2</text>
<line x1="502.4" y1="524.6" x2="502.4" y2="538.6" stroke="#000" stroke-width="1.8" stroke-linecap="round"/>
<text x="502.4" y="575" text-anchor="middle" class="t">0.5</text>
<line x1="657.7" y1="524.6" x2="657.7" y2="538.6" stroke="#000" stroke-width="1.8" stroke-linecap="round"/>
<text x="657.7" y="575" text-anchor="middle" class="t">1.0</text>
<line x1="813.0" y1="524.6" x2="813.0" y2="538.6" stroke="#000" stroke-width="1.8" stroke-linecap="round"/>
<text x="813.0" y="575" text-anchor="middle" class="t">2.0</text>
<line x1="1018.4" y1="524.6" x2="1018.4" y2="538.6" stroke="#000" stroke-width="1.8" stroke-linecap="round"/>
<text x="1018.4" y="575" text-anchor="middle" class="t">5.0</text>
<text x="579.8" y="631" text-anchor="middle" class="t">Frequency (1/year)</text>
<text transform="translate(16.6,270.1) rotate(-90)" text-anchor="middle" class="t" style="font-size:23.8px">PSD Temperature</text>
<line x1="127.8" y1="412.6" x2="169.4" y2="412.6" stroke="#000" stroke-width="3.1" stroke-linecap="round"/>
<text x="190.3" y="420.5" class="t">Reanalysis 1979-2005</text>
<line x1="127.8" y1="440.7" x2="169.4" y2="440.7" stroke="#e80808" stroke-width="3.1" stroke-linecap="round"/>
<text x="190.3" y="448.6" class="t">WAIS core 1979-2005 diffusion corrected</text>
<line x1="127.8" y1="468.8" x2="169.4" y2="468.8" stroke="#9e2628" stroke-width="3.1" stroke-linecap="round"/>
<text x="190.3" y="476.7" class="t">WAIS core 5ka BP, diffusion corrected</text>
<line x1="127.8" y1="496.9" x2="169.4" y2="496.9" stroke="#f2a010" stroke-width="3.1" stroke-linecap="round"/>
<text x="190.3" y="504.8" class="t">WAIS core 5ka BP, raw</text>
</svg>
</body></html>
